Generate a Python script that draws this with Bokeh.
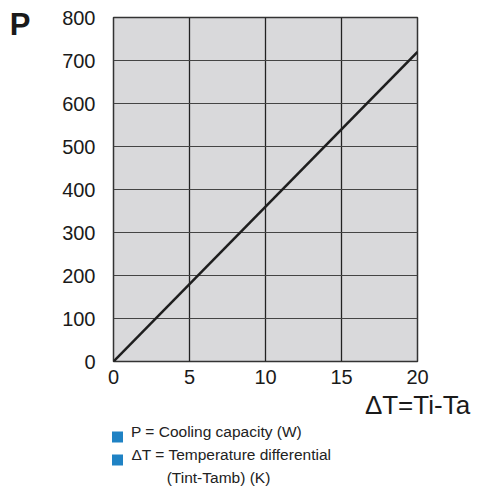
from bokeh.plotting import figure
from bokeh.models import Range1d, FixedTicker, LinearAxis
from bokeh.embed import file_html
from bokeh.resources import INLINE

# Data
delta_t = [0, 20]
power = [0, 720]
x_ticks = [0, 5, 10, 15, 20]
y_ticks = [0, 100, 200, 300, 400, 500, 600, 700, 800]
y_title = "P"
x_title = "ΔT=Ti-Ta"
legend_lines = ["P = Cooling capacity (W)", "ΔT = Temperature differential", "(Tint-Tamb) (K)"]

W, H = 504, 490
FONT = "Liberation Sans"
BLUE = "#1f82c4"

p = figure(width=W, height=H, output_backend="svg", toolbar_location=None,
           x_range=Range1d(0, 20), y_range=Range1d(0, 800),
           min_border_left=113, min_border_right=87, min_border_top=17, min_border_bottom=129)
# a pixel-like horizontal range for placing the key texts
p.extra_x_ranges = {"px": Range1d(113, 417)}
p.background_fill_color = "#d9d9db"
p.border_fill_color = "white"
p.outline_line_color = "#333333"
p.outline_line_width = 1.5

def style_axis(ax, size, standoff, bold=False, font=FONT, color="#1a1a1a"):
    ax.axis_line_color = None
    ax.major_tick_line_color = None
    ax.minor_tick_line_color = None
    ax.major_tick_out = 0
    ax.major_tick_in = 0
    ax.minor_tick_out = 0
    ax.minor_tick_in = 0
    ax.major_label_text_font = font
    ax.major_label_text_font_size = size
    ax.major_label_text_color = color
    ax.major_label_standoff = standoff
    if bold:
        ax.major_label_text_font_style = "bold"

style_axis(p.xaxis[0], "20px", 8)
style_axis(p.yaxis[0], "20px", 18)
p.xaxis.ticker = FixedTicker(ticks=x_ticks)
p.yaxis.ticker = FixedTicker(ticks=y_ticks)

p.xgrid.ticker = FixedTicker(ticks=x_ticks)
p.ygrid.ticker = FixedTicker(ticks=y_ticks)
p.xgrid.grid_line_color = "#222222"
p.xgrid.grid_line_width = 1.3
p.ygrid.grid_line_color = "#444444"
p.ygrid.grid_line_width = 1.2

p.line(delta_t, power, line_color="#1e1e1e", line_width=2.5)

# "P" title: an extra left axis with a single labelled tick near the top
p_tick = 784
p_axis = LinearAxis(ticker=FixedTicker(ticks=[p_tick]), major_label_overrides={p_tick: y_title})
style_axis(p_axis, "31px", 29, bold=True)
p.add_layout(p_axis, "left")

# "ΔT=Ti-Ta" title: an extra bottom axis with a single labelled tick at the right end
t_tick = x_ticks[-1]
t_axis = LinearAxis(ticker=FixedTicker(ticks=[t_tick]), major_label_overrides={t_tick: x_title})
style_axis(t_axis, "26px", 3)
p.add_layout(t_axis, "below")

# key: one bottom axis per line; the blue square of a line is drawn as a thick
# inward minor tick of the following line's axis
key_centers = [216, 231, 218]
key_standoffs = [0, 3, 3]
square_x = 117
for i, (txt, cx, so) in enumerate(zip(legend_lines, key_centers, key_standoffs)):
    minors = [square_x] if i > 0 else []
    ax = LinearAxis(x_range_name="px", ticker=FixedTicker(ticks=[cx], minor_ticks=minors),
                    major_label_overrides={cx: txt})
    style_axis(ax, "15.5px", so, font=FONT, color="#222222")
    if minors:
        ax.minor_tick_line_color = BLUE
        ax.minor_tick_line_width = 11
        ax.minor_tick_out = 0
        ax.minor_tick_in = 19
        ax.minor_tick_line_dash = "11 40"
    p.add_layout(ax, "below")

open("out.html", "w").write(file_html(p, INLINE))
